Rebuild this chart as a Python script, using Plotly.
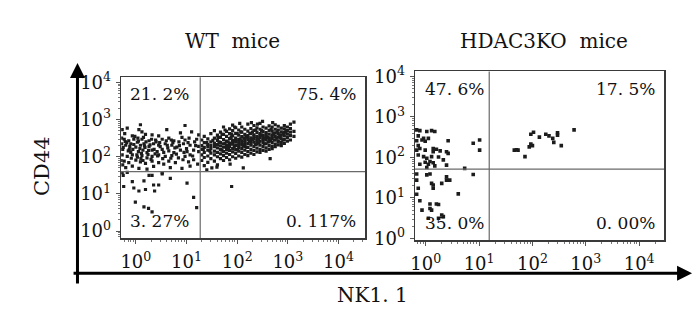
import numpy as np
import plotly.graph_objects as go

# ---------------- data (log10 decades) ----------------
# WT mice : NK1.1 (x) vs CD44 (y)
wt_ul = [(0.09,2.86),(0.97,2.84),(0.61,2.73),(0.06,2.73),(0.12,2.67),(-0.17,2.77),(-0.27,2.73),(-0.07,2.56),(0.19,2.60),(0.32,2.59),(0.45,2.56),(0.88,2.64),(1.10,2.67),(1.24,2.59),
 (-0.23,2.47),(-0.14,2.43),(-0.04,2.47),(0.03,2.39),(0.12,2.47),(0.26,2.43),(0.39,2.45),(0.52,2.47),(0.65,2.50),(0.75,2.43),(0.91,2.52),(0.97,2.45),(1.20,2.47),
 (-0.28,2.35),(-0.20,2.31),(-0.10,2.35),(0.0,2.26),(0.09,2.31),(0.16,2.35),(0.26,2.28),(0.35,2.35),(0.45,2.31),(0.58,2.35),(0.71,2.31),(0.81,2.26),(0.94,2.35),(1.07,2.31),(1.24,2.28),
 (-0.26,2.20),(-0.15,2.16),(-0.06,2.20),(0.05,2.14),(0.14,2.18),(0.22,2.11),(0.32,2.18),(0.42,2.14),(0.52,2.20),(0.65,2.16),(0.75,2.11),(0.88,2.18),(1.01,2.14),(1.14,2.18),(1.24,2.14),
 (-0.27,2.05),(-0.17,2.01),(-0.07,2.05),(0.03,1.99),(0.12,2.03),(0.22,1.97),(0.32,2.01),(0.45,2.05),(0.58,2.01),(0.71,2.03),(0.84,1.97),(0.97,2.01),(1.07,2.05),
 (-0.23,1.88),(-0.14,1.84),(0.0,1.91),(0.09,1.86),(0.19,1.82),(0.32,1.88),(0.45,1.84),(0.55,1.80),(0.65,1.88),(0.78,1.84),(1.04,1.86),(1.14,1.92),
 (-0.20,1.71),(-0.07,1.75),(0.06,1.69),(0.22,1.67),(0.35,1.74),(0.68,1.71),(0.91,1.69),(1.07,1.75),
 (-0.28,2.50),(-0.25,2.25),(-0.22,2.62),(-0.18,2.38),(-0.12,2.28),(-0.10,2.12),(-0.02,2.55),(0.02,2.05),(0.05,2.42),(0.08,2.22),(0.10,1.95),(0.15,2.52),(0.18,2.25),(0.20,2.40),(0.24,2.06),(0.28,2.32),(0.30,1.93),(0.36,2.20),(0.40,2.40),(0.43,2.02),(0.48,2.27),(0.55,2.12),(0.60,2.43),(0.63,2.24),(0.69,1.96),(0.73,2.38),(0.80,2.07),(0.86,2.30),(0.93,1.92),(1.00,2.22),(1.05,2.50),(1.12,2.02),(1.18,2.30),(1.22,1.80),(-0.29,1.90),(-0.26,1.78),
 (-0.21,2.41),(-0.13,2.19),(-0.04,2.33),(0.04,2.50),(0.11,2.09),(0.17,2.29),(0.25,2.17),(0.31,2.47),(0.38,2.08),(0.47,2.38),(0.53,1.95),(0.62,2.31),(0.70,2.45),(0.77,2.24),(0.85,2.40),(0.95,2.12),(1.03,2.38),(1.16,2.40),(-0.09,1.96),(0.14,1.90)]
wt_ll = [(-0.24,1.20),(-0.07,1.33),(-0.04,1.16),(0.16,1.35),(0.19,1.12),(-0.01,0.78),(0.06,1.08),(0.32,1.50),(0.35,1.24),(0.37,1.08),(0.45,1.24),(0.52,1.57),(0.16,0.65),(0.25,0.61),(0.32,0.52),(0.68,1.42),(1.01,1.29),(1.14,0.91),(1.20,0.63),(-0.25,1.50),(-0.27,1.57),(-0.17,1.58),(0.26,1.50),(0.52,1.54)]
wt_lr = [(1.89,1.20)]
wt_ur_cols = {
 1.30:[2.05,2.30,2.45,1.90,2.20], 1.35:[2.12,2.38,1.98,2.25,2.55], 1.42:[2.02,2.18,2.33,2.48,1.85,2.28],
 1.48:[2.10,2.22,2.40,1.95,2.62,2.30], 1.55:[2.05,2.15,2.27,2.36,2.50,1.88,2.70], 1.61:[2.00,2.12,2.24,2.33,2.44,2.58,1.78],
 1.67:[2.08,2.19,2.29,2.38,2.52,2.66,1.95], 1.73:[2.03,2.14,2.26,2.35,2.46,2.60,2.80,1.90], 1.79:[2.10,2.20,2.31,2.42,2.55,2.68,1.98,2.25],
 1.85:[2.06,2.17,2.28,2.37,2.49,2.62,2.75,1.92,2.33], 1.91:[2.13,2.22,2.34,2.44,2.56,2.70,2.00,2.40,2.85], 1.97:[2.09,2.19,2.30,2.39,2.50,2.63,2.78,1.96,2.45],
 2.03:[2.15,2.25,2.35,2.46,2.58,2.72,2.02,2.41,2.30], 2.09:[2.12,2.22,2.32,2.43,2.54,2.66,2.80,1.99,2.37], 2.15:[2.18,2.28,2.38,2.49,2.60,2.74,2.06,2.44,2.33],
 2.21:[2.14,2.25,2.36,2.46,2.57,2.69,2.88,2.03,2.52], 2.27:[2.20,2.31,2.41,2.51,2.62,2.76,2.10,2.47,2.36], 2.33:[2.17,2.28,2.39,2.49,2.59,2.71,2.84,2.06,2.55],
 2.39:[2.23,2.34,2.44,2.54,2.65,2.78,2.13,2.50,2.40], 2.45:[2.20,2.31,2.42,2.52,2.62,2.74,2.90,2.12,2.57], 2.51:[2.27,2.37,2.47,2.57,2.68,2.80,2.17,2.53,2.44],
 2.57:[2.24,2.35,2.45,2.55,2.65,2.77,2.15,2.60], 2.63:[2.30,2.41,2.51,2.61,2.71,2.83,2.20,2.48], 2.69:[2.28,2.38,2.49,2.59,2.69,2.80,2.22,2.55],
 2.75:[2.34,2.45,2.55,2.64,2.74,2.86,2.27], 2.81:[2.32,2.43,2.53,2.62,2.72,2.82,2.40], 2.87:[2.38,2.48,2.58,2.67,2.77,2.30],
 2.93:[2.36,2.46,2.56,2.65,2.75,2.84], 2.99:[2.42,2.52,2.61,2.70,2.80], 3.05:[2.45,2.57,2.66,2.76,2.88], 3.12:[2.55,2.68,2.93]}
wt_ur_extra = [(1.50,1.70),(1.35,1.76),(2.12,1.70),(1.86,1.80),(2.65,1.95),(1.40,1.65),(1.60,1.72),
 (1.82,2.40),(1.88,2.52),(1.94,2.27),(2.00,2.62),(2.06,2.48),(2.12,2.30),(2.18,2.55),(2.24,2.42),(2.30,2.66),(2.36,2.33),(2.42,2.47),(2.48,2.70),(2.54,2.35),(2.60,2.52),(2.66,2.44),(2.72,2.62),(2.78,2.50),(2.84,2.58),(2.90,2.45),(2.96,2.68),
 (1.76,2.36),(1.83,2.23),(1.89,2.61),(1.95,2.43),(2.01,2.19),(2.07,2.67),(2.13,2.51),(2.19,2.25),(2.25,2.63),(2.31,2.46),(2.37,2.72),(2.43,2.37),(2.49,2.59),(2.55,2.49),(2.61,2.39),(2.67,2.74),(2.73,2.45),(2.79,2.67),(2.85,2.52),(2.91,2.62),
 (1.58,2.32),(1.64,2.40),(1.70,2.18),(1.52,2.44),(1.46,2.16),(1.40,2.38),(1.33,2.20),(1.62,2.52),(1.70,2.60),(1.76,2.72),
 (2.05,2.90),(2.28,2.92),(2.50,2.95),(2.70,2.92),(2.40,2.88),(1.95,2.80)]

# HDAC3KO mice
ko_ul = [(-0.17,2.68),(-0.11,2.66),(0.02,2.64),(0.11,2.66),(0.17,2.64),(-0.14,2.53),(-0.04,2.47),(-0.17,2.41),(-0.07,2.43),(-0.01,2.40),(0.05,2.47),(0.42,2.41),
 (-0.14,2.29),(-0.17,2.18),(-0.11,2.22),(0.14,2.22),(0.20,2.20),(-0.01,2.18),(0.14,2.14),(0.27,2.16),(0.39,2.14),(0.42,2.10),(-0.14,2.06),(-0.04,2.02),(0.02,1.98),
 (0.11,2.02),(0.24,2.01),(0.33,1.94),(0.08,1.90),(0.14,1.87),(-0.01,1.88),(0.05,1.83),(0.17,1.79),(0.39,1.81),(-0.11,1.83),(0.02,1.75),(0.73,1.73),(0.89,2.35),(1.01,2.43),(1.01,2.18)]
ko_ll = [(-0.17,1.59),(0.02,1.57),(0.08,1.59),(0.89,1.58),(0.39,1.52),(-0.17,1.44),(0.11,1.36),(0.14,1.32),(0.30,1.36),(0.39,1.44),(0.45,1.44),(0.14,1.24),(-0.14,1.24),
 (-0.17,1.09),(-0.11,0.93),(0.08,0.85),(0.20,0.85),(0.24,0.84),(-0.07,0.70),(0.08,0.74),(0.11,0.70),(0.30,0.58),(0.33,0.54),(0.24,0.50),(0.05,0.50),(0.61,1.10)]
ko_ur = [(1.66,2.18),(1.73,2.18),(1.86,2.02),(1.94,2.26),(2.00,2.29),(1.97,2.57),(2.02,2.62),(2.13,2.50),(2.25,2.57),(2.31,2.53),(2.38,2.47),(2.40,2.37),(2.47,2.61),(2.47,2.55),(2.54,2.29),(2.78,2.68),(1.97,2.33),(1.70,2.19)]

# quadrant gates (log10) and quadrant percentages
wt_gate = (1.27, 1.60)
ko_gate = (1.19, 1.71)
wt_pct = ["21. 2%", "75. 4%", "3. 27%", "0. 117%"]
ko_pct = ["47. 6%", "17. 5%", "35. 0%", "0. 00%"]
panel_titles = ["WT\u00a0 mice", "HDAC3KO\u00a0 mice"]
x_title = "NK1. 1"
y_title = "CD44"
tick_exp = [0, 1, 2, 3, 4]

# ---------------- assemble ----------------
def split(pts):
    return [10 ** p[0] for p in pts], [10 ** p[1] for p in pts]

wt_pts = wt_ul + wt_ll + wt_lr + [(k, v) for k, vs in wt_ur_cols.items() for v in vs] + wt_ur_extra
ko_pts = ko_ul + ko_ll + ko_ur
wx, wy = split(wt_pts)
kx, ky = split(ko_pts)

W, H = 700, 323
FONT = "DejaVu Serif"

def dx(a, b):
    return [a / W, b / W]

def dy(top, bottom):
    return [1 - bottom / H, 1 - top / H]

fig = go.Figure()
mk = dict(symbol="square", size=3.2, color="#1c1c1c", line=dict(width=0))
fig.add_trace(go.Scatter(x=wx, y=wy, mode="markers", marker=mk, xaxis="x", yaxis="y", hoverinfo="skip"))
fig.add_trace(go.Scatter(x=kx, y=ky, mode="markers", marker=dict(mk, size=3.6), xaxis="x2", yaxis="y2", hoverinfo="skip"))

# gate lines
for gate, xa, ya in [(wt_gate, "x", "y"), (ko_gate, "x2", "y2")]:
    gx, gy = 10 ** gate[0], 10 ** gate[1]
    fig.add_trace(go.Scatter(x=[gx, gx], y=[1e-2, 1e6], mode="lines", line=dict(color="#6a6a6a", width=1.2),
                             xaxis=xa, yaxis=ya, hoverinfo="skip"))
    fig.add_trace(go.Scatter(x=[1e-2, 1e6], y=[gy, gy], mode="lines", line=dict(color="#6a6a6a", width=1.2),
                             xaxis=xa, yaxis=ya, hoverinfo="skip"))

tickvals = [10 ** e for e in tick_exp]
ticktext = ["10<sup>%d</sup>" % e for e in tick_exp]
minor_vals = [m * 10 ** e for e in range(-1, 5) for m in range(2, 10)]

def axis(domain, rng, anchor):
    return dict(domain=domain, type="log", range=rng, anchor=anchor,
                showline=True, mirror=True, linecolor="#3a3a3a", linewidth=1.5,
                showgrid=False, zeroline=False,
                tickmode="array", tickvals=tickvals, ticktext=ticktext,
                ticks="outside", ticklen=4, tickcolor="#555", tickwidth=1,
                minor=dict(tickmode="array", tickvals=minor_vals, ticks="outside", ticklen=2, tickcolor="#777", showgrid=False),
                tickfont=dict(family=FONT, size=18, color="#111"))

xa1 = axis(dx(117, 363), [-0.29, 4.53], "y")
ya1 = axis(dy(73, 243), [-0.19, 4.14], "x")
xa2 = axis(dx(413, 664), [-0.20, 4.47], "y2")
ya2 = axis(dy(67, 245), [-0.04, 4.12], "x2")
for a in (xa1, xa2):
    a["ticklabelstandoff"] = 3
for a in (ya1, ya2):
    a["ticklabelstandoff"] = 1

anns = []
def pct_labels(pcts, xref, yref):
    pos = [(0.03, 0.97, "left", "top"), (0.97, 0.97, "right", "top"),
           (0.03, 0.03, "left", "bottom"), (0.97, 0.03, "right", "bottom")]
    for t, (x, y, xa, ya) in zip(pcts, pos):
        anns.append(dict(text=t, x=x, y=y, xref=xref + " domain", yref=yref + " domain",
                         xanchor=xa, yanchor=ya, showarrow=False,
                         font=dict(family=FONT, size=17, color="#111")))
pct_labels(wt_pct, "x", "y")
pct_labels(ko_pct, "x2", "y2")

for t, cx in zip(panel_titles, [229, 543]):
    anns.append(dict(text=t, x=cx / W, y=1 - 35 / H, xref="paper", yref="paper", showarrow=False,
                     xanchor="center", yanchor="middle", font=dict(family=FONT, size=20, color="#111")))
anns.append(dict(text=x_title, x=370 / W, y=1 - 303 / H, xref="paper", yref="paper", showarrow=False,
                 xanchor="center", yanchor="middle", font=dict(family=FONT, size=20, color="#111")))
anns.append(dict(text=y_title, x=37 / W, y=1 - 167 / H, xref="paper", yref="paper", showarrow=False,
                 textangle=-90, xanchor="center", yanchor="middle", font=dict(family=FONT, size=21, color="#111")))
# big axis arrows
anns.append(dict(text="", x=73 / W, y=1 - 58 / H, xref="paper", yref="paper", showarrow=True,
                 ax=0, ay=222, arrowhead=2, arrowsize=1.0, arrowwidth=3, arrowcolor="#000"))
anns.append(dict(text="", x=692 / W, y=1 - 280 / H, xref="paper", yref="paper", showarrow=True,
                 ax=-620, ay=0, arrowhead=2, arrowsize=1.0, arrowwidth=3, arrowcolor="#000"))

fig.update_layout(width=W, height=H, margin=dict(l=0, r=0, t=0, b=0),
                  paper_bgcolor="white", plot_bgcolor="white", showlegend=False,
                  xaxis=xa1, yaxis=ya1, xaxis2=xa2, yaxis2=ya2, annotations=anns)

fig.write_html("out.html", config={"displayModeBar": False, "staticPlot": True},
               post_script="document.body.style.margin='0';document.body.style.overflow='hidden';")
